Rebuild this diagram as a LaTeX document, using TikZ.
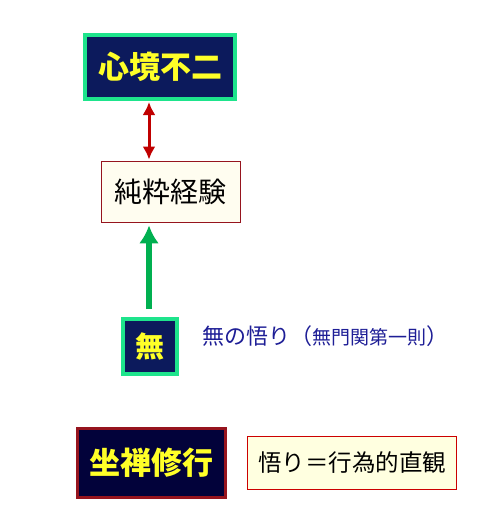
\documentclass[tikz,border=0pt]{standalone}
\usepackage{fontspec}
\setmainfont{Noto Sans CJK JP}
\usepackage{xcolor}
\usetikzlibrary{arrows.meta,positioning}

\definecolor{navy}{RGB}{12,26,92}
\definecolor{darknavy}{RGB}{2,2,58}
\definecolor{mint}{RGB}{30,228,140}
\definecolor{gold}{RGB}{255,255,40}
\definecolor{brick}{RGB}{150,20,30}
\definecolor{cream}{RGB}{255,253,240}
\definecolor{paleyel}{RGB}{255,255,224}
\definecolor{redarr}{RGB}{192,0,0}
\definecolor{greenarr}{RGB}{0,176,80}
\definecolor{indigo}{RGB}{30,30,150}

\begin{document}
\begin{tikzpicture}[x=1pt, y=-1pt,
    darkbox/.style={rectangle, draw=mint, line width=4pt, fill=navy, text=gold, font=\bfseries},
    lightbox/.style={rectangle, draw=brick, line width=0.8pt, fill=cream, text=black}]
    \useasboundingbox (0,0) rectangle (496,511);

    \node [darkbox, minimum width=150pt, minimum height=64pt, font=\fontsize{31}{34}\selectfont\bfseries] (shinkyo) at (160,67) {心境不二};
    \node [lightbox, minimum width=139pt, minimum height=61pt, font=\fontsize{28}{30}\selectfont] (junsui) at (170.5,191.5) {純粋経験};
    \node [darkbox, minimum width=54pt, minimum height=55pt, inner sep=0pt, font=\fontsize{29}{30}\selectfont\bfseries] (mu) at (150,346.5) {無};
    \node [anchor=west, text=indigo, inner sep=0pt, font=\fontsize{22}{26}\selectfont] (musatori) at (202,336) {無の悟り（{\fontsize{19}{20}\selectfont 無門関第一則}）};
    \node [darkbox, draw=brick, line width=3pt, fill=darknavy, minimum width=148pt, minimum height=69pt, font=\fontsize{31}{34}\selectfont\bfseries] (zazen) at (151.5,463) {坐禅修行};
    \node [lightbox, draw=red!80!black, fill=paleyel, minimum width=209pt, minimum height=53pt, font=\fontsize{23.5}{27}\selectfont] (satori) at (352,463) {悟り＝行為的直観};

    \draw [{Latex[length=13pt,width=13pt]}-{Latex[length=13pt,width=13pt]}, line width=3pt, redarr, shorten <=1pt, shorten >=1pt] ([xshift=-11pt]shinkyo.south) -- ([xshift=-21.5pt]junsui.north);
    \draw [-{Latex[length=18pt,width=20pt]}, line width=6pt, greenarr, shorten <=8pt, shorten >=3pt] ([xshift=-1pt]mu.north) -- ([xshift=-21.5pt]junsui.south);
\end{tikzpicture}
\end{document}
